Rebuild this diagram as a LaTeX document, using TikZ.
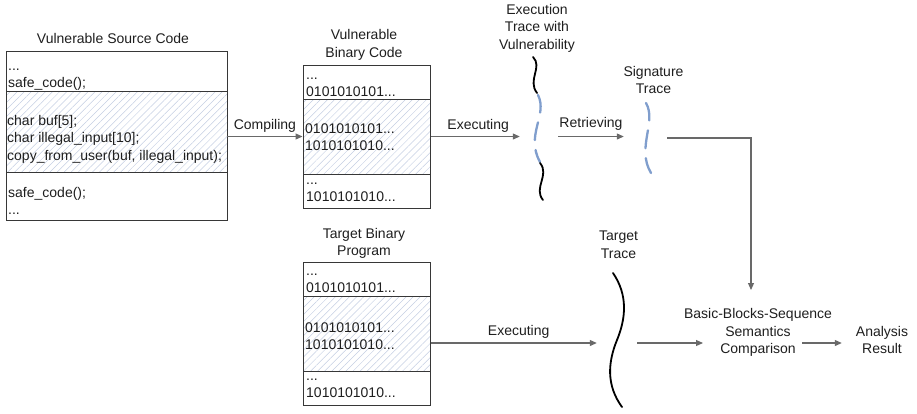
\documentclass[tikz,border=0pt]{standalone}
\usepackage{fontspec}
\setmainfont{Liberation Sans}
\usetikzlibrary{arrows.meta}
\usetikzlibrary{patterns.meta}
\definecolor{boxline}{RGB}{55,55,55}
\definecolor{arrowgray}{RGB}{105,105,105}
\definecolor{hatchblue}{RGB}{196,206,226}
\definecolor{tracedash}{RGB}{128,158,205}
\definecolor{txt}{RGB}{30,30,30}

\begin{document}
\begin{tikzpicture}
[every node/.style={inner sep=0pt, text=txt, font=\fontsize{14}{17.5}\selectfont},
 sect/.style={draw=boxline, line width=1pt},
 hatched/.style={pattern={Lines[angle=45, distance=5pt, line width=0.5pt]}, pattern color=hatchblue},
 codetext/.style={anchor=north west, align=left},
 lbl/.style={align=center},
 flow/.style={draw=arrowgray, line width=1.1pt, -{Triangle[length=7pt, width=6pt]}},
 blackwave/.style={draw=black, line width=1.8pt, line cap=round},
 bluewave/.style={draw=tracedash, line width=2.3pt, line cap=round, dash pattern=on 18pt off 10pt}]
\useasboundingbox (0pt, 0pt) rectangle (917pt, -413pt);

% source code box
\node (srcttl) [lbl] at (113pt, -38pt) {Vulnerable Source Code};
\node (src1) [sect, minimum width=221pt, minimum height=40pt] at (116.5pt, -71pt) {};
\node (src2) [sect, hatched, minimum width=221pt, minimum height=81pt] at (116.5pt, -131.5pt) {};
\node (src3) [sect, minimum width=221pt, minimum height=48pt] at (116.5pt, -196pt) {};
\node (src1t) [codetext] at (8pt, -58pt) {\strut...\\safe\_code();};
\node (src2t) [codetext] at (7pt, -113pt) {\strut char buf[5];\\char illegal\_input[10];\\copy\_from\_user(buf, illegal\_input);};
\node (src3t) [codetext] at (8pt, -185pt) {\strut safe\_code();\\...};

% vulnerable binary box
\node (vbttl) [lbl] at (364pt, -45pt) {Vulnerable\\Binary Code};
\node (vb1) [sect, minimum width=127pt, minimum height=34pt] at (366.5pt, -82pt) {};
\node (vb2) [sect, hatched, minimum width=127pt, minimum height=75pt] at (366.5pt, -136.5pt) {};
\node (vb3) [sect, minimum width=127pt, minimum height=34pt] at (366.5pt, -191pt) {};
\node (vb1t) [codetext] at (306pt, -67pt) {\strut...\\0101010101...};
\node (vb2t) [codetext] at (305pt, -121pt) {\strut 0101010101...\\1010101010...};
\node (vb3t) [codetext] at (306pt, -172pt) {\strut...\\1010101010...};

% target binary box
\node (tbttl) [lbl] at (364pt, -243.5pt) {Target Binary\\Program};
\node (tb1) [sect, minimum width=127pt, minimum height=34pt] at (366.5pt, -279pt) {};
\node (tb2) [sect, hatched, minimum width=127pt, minimum height=75pt] at (366.5pt, -333.5pt) {};
\node (tb3) [sect, minimum width=127pt, minimum height=34pt] at (366.5pt, -388pt) {};
\node (tb1t) [codetext] at (306pt, -263pt) {\strut...\\0101010101...};
\node (tb2t) [codetext] at (305pt, -320pt) {\strut 0101010101...\\1010101010...};
\node (tb3t) [codetext] at (306pt, -368pt) {\strut...\\1010101010...};

% traces
\node (extr) [minimum width=38pt, minimum height=145pt] at (539pt, -128.5pt) {};
\node (exttl) [lbl] at (537pt, -28pt) {Execution\\Trace with\\Vulnerability};
\draw [blackwave] (533pt, -57pt) .. controls (543pt, -67pt) and (527pt, -80pt) .. (537pt, -93pt);
\draw [bluewave] (538pt, -95pt) .. controls (548pt, -115pt) and (525pt, -135pt) .. (540pt, -162pt);
\draw [blackwave] (540pt, -163pt) .. controls (550pt, -175pt) and (533pt, -188pt) .. (543pt, -200pt);

\node (sigtr) [minimum width=43pt, minimum height=70pt] at (645.5pt, -138pt) {};
\node (sigttl) [lbl] at (653.5pt, -80pt) {Signature\\Trace};
\draw [bluewave] (646pt, -103pt) .. controls (657pt, -122pt) and (636pt, -148pt) .. (651pt, -173pt);

\node (tgtr) [minimum width=40pt, minimum height=134pt] at (617pt, -343pt) {};
\node (tgttl) [lbl] at (618.5pt, -244.5pt) {Target\\Trace};
\draw [blackwave] (613pt, -273pt) .. controls (628pt, -295pt) and (626pt, -318pt) .. (617pt, -340pt)
  .. controls (608pt, -362pt) and (606pt, -385pt) .. (622pt, -407pt);

% comparison and result
\node (cmp) [lbl] at (758pt, -332.5pt) {Basic-Blocks-Sequence\\Semantics\\Comparison};
\node (res) [lbl, minimum width=80pt] at (882pt, -340pt) {Analysis\\Result};
\coordinate (cmptop) at (751pt, -290pt);
\coordinate (cmpin) at (703pt, -343pt);
\coordinate (cmpout) at (802pt, -343pt);

% arrows
\draw [flow] (src2.east |- vb2.west) -- (vb2.west) node [midway, above=4pt] {Compiling};
\draw [flow] (vb2.east) -- (extr.west |- vb2.east) node [midway, above=4pt, xshift=3pt] {Executing};
\draw [flow] (extr.east |- vb2.east) -- (sigtr.west |- vb2.east) node [midway, above=6pt] {Retrieving};
\draw [flow] (sigtr.east) -| (cmptop);
\draw [flow] (tb2.east |- tgtr.west) -- (tgtr.west) node [midway, above=4pt, xshift=5pt] {Executing};
\draw [flow] (tgtr.east) -- (cmpin);
\draw [flow] (cmpout) -- (cmpout -| res.west);
\end{tikzpicture}
\end{document}
